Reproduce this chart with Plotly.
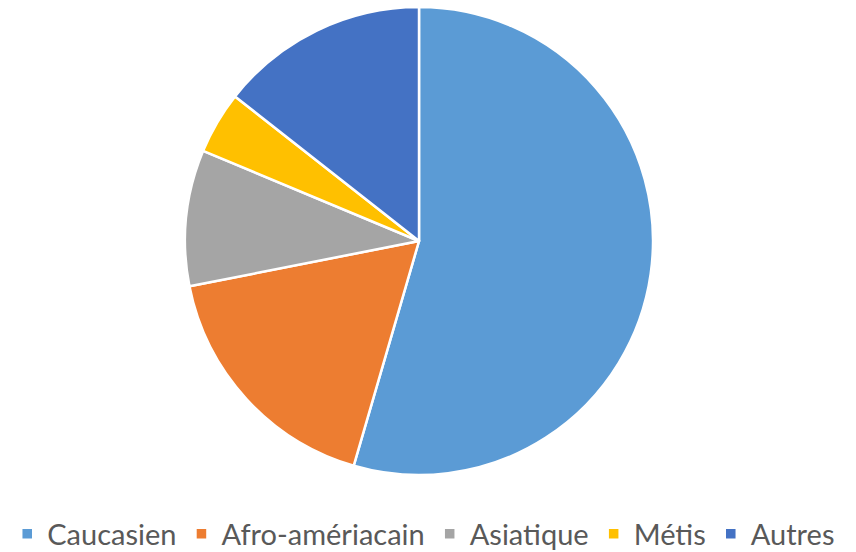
import plotly.graph_objects as go

labels = ["Caucasien", "Afro-amériacain", "Asiatique", "Métis", "Autres"]
values = [54.5, 17.4, 9.4, 4.3, 14.4]
colors = ["#5B9BD5", "#ED7D31", "#A5A5A5", "#FFC000", "#4472C4"]

fig = go.Figure(go.Pie(
    labels=labels,
    values=values,
    sort=False,
    direction="clockwise",
    rotation=0,
    textinfo="none",
    hoverinfo="label+percent",
    marker=dict(colors=colors, line=dict(color="white", width=2.5)),
    domain=dict(x=[0.2161, 0.7629], y=[0.1395, 0.9873]),
))

fig.update_layout(
    width=856, height=552,
    margin=dict(l=0, r=0, t=0, b=0, autoexpand=False),
    paper_bgcolor="white",
    plot_bgcolor="white",
    showlegend=True,
    legend=dict(
        orientation="h",
        x=0.495, xanchor="center",
        y=1 - 534 / 552, yanchor="middle",
        font=dict(family="Lato", size=29, color="#595959"),
        tracegroupgap=0,
    ),
)

fig.write_html("out.html", config={"displayModeBar": False},
               post_script="document.body.style.margin='0';")
